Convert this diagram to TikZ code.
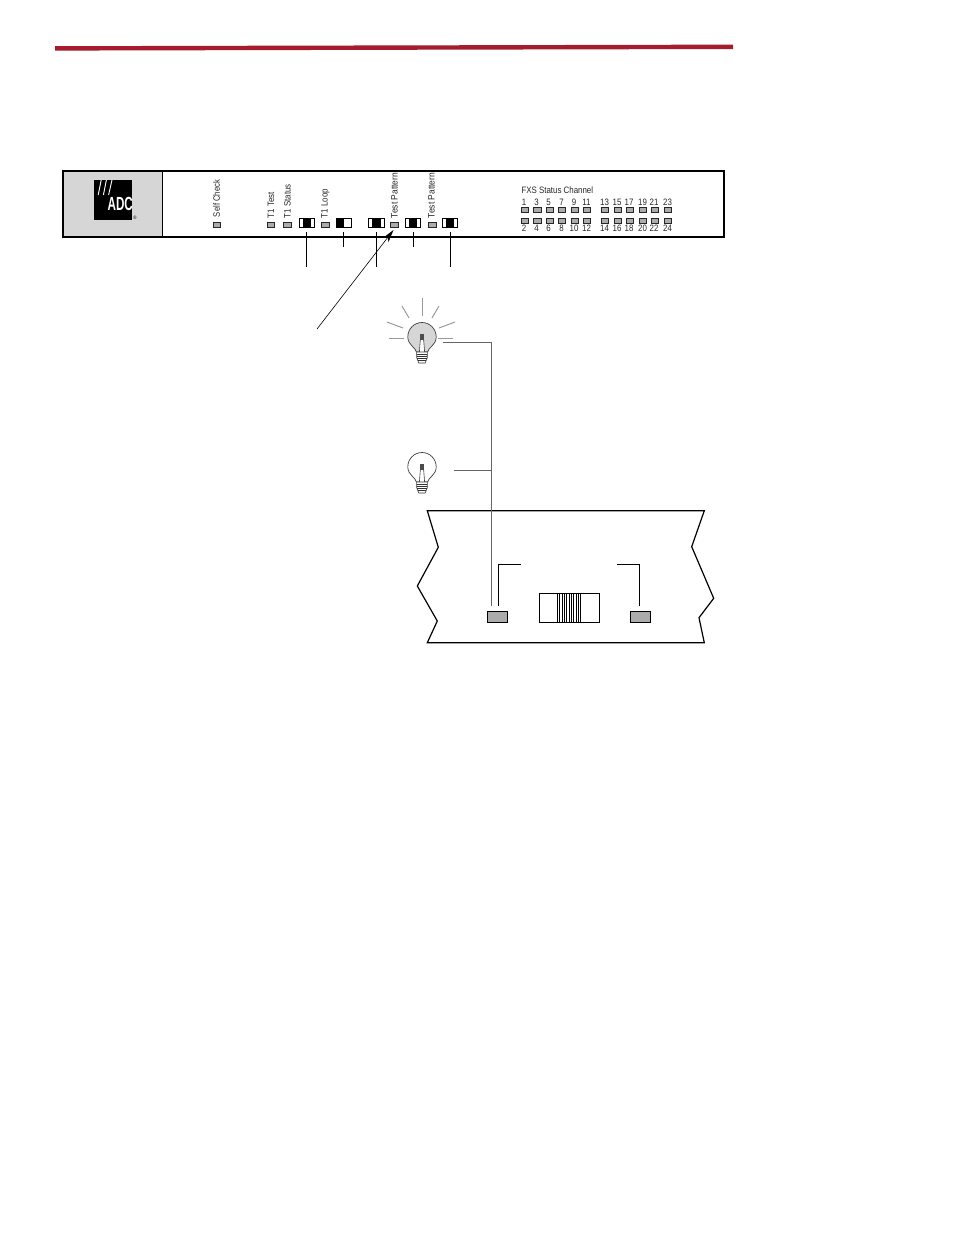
\documentclass[tikz,border=0pt]{standalone}
\usepackage{fontspec}
\setmainfont{Liberation Sans}[FakeStretch=0.85]
\usetikzlibrary{arrows.meta}
\definecolor{barred}{HTML}{A51C2C}
\definecolor{ledgray}{HTML}{ABABAB}
\definecolor{panelgray}{HTML}{D6D6D6}
\definecolor{wiregray}{HTML}{666666}
\definecolor{raygray}{HTML}{9A9A9A}
\definecolor{bulbgray}{HTML}{D6D6D6}
\tikzset{
  x=1pt,y=-1pt,
  led/.style={draw=black!85,fill=ledgray,line width=0.8pt,minimum width=7.6pt,minimum height=4.8pt,inner sep=0pt,outer sep=0pt},
  bigled/.style={draw=black,fill=ledgray,line width=0.9pt,minimum width=20.4pt,minimum height=11pt,inner sep=0pt,outer sep=0pt},
  lab/.style={inner sep=0pt,outer sep=0pt,font=\fontsize{9.3}{10}\selectfont,text=black!85},
  vlab/.style={lab,rotate=90,anchor=west},
  swbox/.style={draw=black,fill=white,line width=1pt,minimum width=15.6pt,minimum height=9pt,inner sep=0pt,outer sep=0pt},
  leader/.style={draw=black,line width=0.8pt},
  wire/.style={draw=wiregray,line width=0.9pt},
  ray/.style={draw=raygray,line width=1pt},
  band/.style={draw=black,line width=1.2pt,line join=miter},
}
\newcommand{\swfill}[3]{\fill[black] (#1,218) rectangle (#2,227);\node[swbox,fill=none,at={(#3,222.5)}] (sw#3) {};}
\newcommand{\bulbshape}[3]{%
  \begin{scope}[shift={(#1,#2)}]
    \path[draw=black!75,fill=#3,line width=0.7pt]
      (-5.6,15) .. controls (-6.2,10.5) and (-14.2,8) .. (-14.2,0)
      .. controls (-14.2,-8) and (-8,-14.5) .. (0,-14.5)
      .. controls (8,-14.5) and (14.2,-8) .. (14.2,0)
      .. controls (14.2,8) and (6.2,10.5) .. (5.6,15) -- cycle;
    \fill[white] (-1.6,2) -- (1.6,2) -- (2.4,15) -- (-2.4,15) -- cycle;
    \draw[black!75,line width=0.6pt] (-1.6,2) -- (-2.6,15) (1.6,2) -- (2.6,15);
    \fill[black!70] (-2,-3.5) rectangle (2,3);
    \draw[black!80,line width=0.6pt,fill=white] (-5.4,15) -- (5.4,15) -- (5.2,21) -- (3.2,26) -- (-3.2,26) -- (-5.2,21) -- cycle;
    \draw[black!80,line width=0.5pt] (-5.4,17) -- (5.4,17) (-5.3,19) -- (5.3,19) (-5.2,21) -- (5.2,21) (-4.4,23) -- (4.4,23);
  \end{scope}}
\begin{document}
\begin{tikzpicture}
\useasboundingbox (0,0) rectangle (954,1235);
% red bar
\fill[barred] (55,46.2) -- (733,44.6) -- (733,49) -- (55,50.6) -- cycle;
% panel
\fill[panelgray] (63,171) rectangle (162,237);
\draw[black,line width=0.9pt] (162.3,171) -- (162.3,237);
\node[draw=black,line width=1.7pt,minimum width=660.5pt,minimum height=65.8pt,inner sep=0pt,outer sep=0pt,anchor=north west] (panel) at (63.2,171) {};
% logo
\fill[black] (94,180) rectangle (132,220);
\draw[white,line width=0.9pt] (98.2,195) -- (101.2,180) (103.4,195) -- (106.4,180) (108.6,195) -- (112,180);
\node[inner sep=0pt,text=white,font=\fontsize{19}{19}\bfseries\selectfont] (adc) at (120.3,203.5) {\scalebox{0.72}[1]{ADC}};
\node[inner sep=0pt,font=\fontsize{5}{5}\selectfont] (reg) at (135,217.5) {®};
% single LEDs
\foreach \n/\x in {selfcheck/217,tonetest/271,tonestatus/287.5,toneloop/325.5,testa/394.5,testb/432.5}
  \node[led] (\n) at (\x,224.5) {};
% vertical labels
\node[vlab] (lselfcheck) at (216.5,217) {\scalebox{0.97}[1]{Self Check}};
\node[vlab] (ltonetest) at (271,218) {T1 Test};
\node[vlab] (ltonestatus) at (287.5,218) {T1 Status};
\node[vlab] (ltoneloop) at (325.5,218) {T1 Loop};
\node[vlab] (ltesta) at (394.5,218) {\scalebox{1.07}[1]{Test Pattern}};
\node[vlab] (ltestb) at (431.5,218) {\scalebox{1.07}[1]{Test Pattern}};
% switches
\swfill{303}{311}{307}
\swfill{336}{343.5}{344}
\swfill{372}{381}{376.5}
\swfill{409}{417}{413}
\swfill{446}{454}{450}
% leaders
\foreach \x/\yy in {306/267,343/246.5,376/267,413/246.5,450/267}{
  \coordinate (la\x) at (\x,232);
  \coordinate (lb\x) at (\x,\yy);
  \draw[leader] (la\x) -- (lb\x);
}
% arrow
\coordinate (arrs) at (317,329);
\coordinate (arre) at (393.5,230);
\draw[draw=black,line width=0.6pt,-{Stealth[length=13pt,width=7pt]}] (arrs) -- (arre);
% FXS
\node[lab,anchor=west] (fxs) at (521.5,190.5) {FXS Status Channel};
\foreach \x [count=\i from 0] in {525,537.5,550,562,575,587,605,618,630,643,655,668}{
  \pgfmathtruncatemacro{\odd}{2*\i+1}
  \pgfmathtruncatemacro{\even}{2*\i+2}
  \node[led] (t\odd) at (\x,209.5) {};
  \node[led] (b\even) at (\x,220.5) {};
}
\foreach \x/\t in {524/1,536.5/3,548.5/5,561.5/7,574/9,586.5/11,604.5/13,617/15,629/17,642.5/19,654/21,667.5/23}
  \node[lab,anchor=base] (lt\t) at (\x,205.5) {\t};
\foreach \x/\t in {524/2,536.5/4,548.5/6,561.5/8,574/10,586.5/12,604.5/14,617/16,629/18,642.5/20,654/22,667.5/24}
  \node[lab,anchor=base] (lb\t) at (\x,231.5) {\t};
% lit bulb
\bulbshape{422}{337}{bulbgray}
\coordinate (r1a) at (422,298);\coordinate (r1b) at (422,316);
\coordinate (r2a) at (402,306);\coordinate (r2b) at (409,318);
\coordinate (r3a) at (439,306);\coordinate (r3b) at (432,318);
\coordinate (r4a) at (387,322);\coordinate (r4b) at (403,328);
\coordinate (r5a) at (455,322);\coordinate (r5b) at (439,328);
\coordinate (r6a) at (389,338);\coordinate (r6b) at (404,338);
\coordinate (r7a) at (453,338);\coordinate (r7b) at (438,338);
\foreach \r in {1,...,7} \draw[ray] (r\r a) -- (r\r b);
% unlit bulb
\bulbshape{422}{467}{white}
% band
\path[band,fill=white] (427.3,510.7) -- (704.3,510.7) -- (691.7,546.7) -- (713.7,598.3) -- (699,617.7) -- (704.3,642.7) -- (427.3,642.7) -- (437.3,621) -- (417.3,586) -- (438.3,547.3) -- cycle;
% band LEDs
\node[bigled] (ledl) at (497.5,616.8) {};
\node[bigled] (ledr) at (640.5,616.8) {};
% band switch
\node[draw=black,line width=0.9pt,minimum width=60.4pt,minimum height=29pt,inner sep=0pt,outer sep=0pt,fill=white] (bsw) at (569.5,607.8) {};
\foreach \i in {0,...,10}
  \draw[black,line width=0.7pt] ({557.3+2.33*\i},593.3) -- ({557.3+2.33*\i},622.3);
% band leaders
\coordinate (bl1) at (520.7,564.3);\coordinate (bl2) at (498.3,564.3);\coordinate (bl3) at (498.3,605.7);
\coordinate (br1) at (617,564.3);\coordinate (br2) at (639.7,564.3);\coordinate (br3) at (639.7,605.7);
\draw[leader] (bl1) -- (bl2) -- (bl3);
\draw[leader] (br1) -- (br2) -- (br3);
% wires
\coordinate (w1) at (443,342.5);\coordinate (w2) at (491.3,342.5);\coordinate (w3) at (491.3,605.7);
\coordinate (w4) at (454,470);\coordinate (w5) at (491.3,470);
\draw[wire] (w1) -- (w2) -- (w3);
\draw[wire] (w4) -- (w5);
\end{tikzpicture}
\end{document}
